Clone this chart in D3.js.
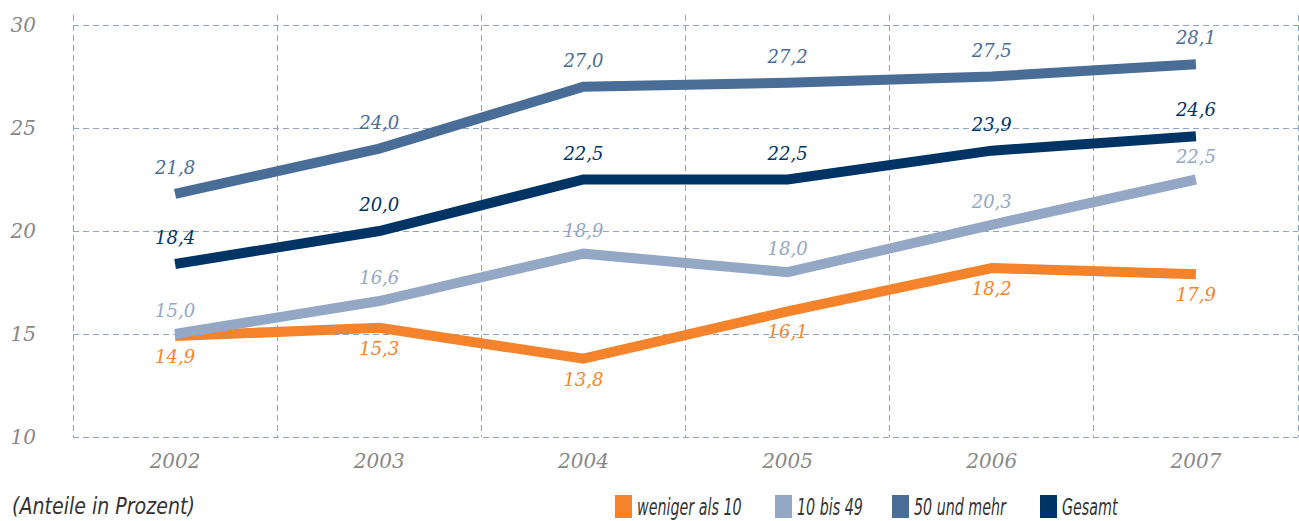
<!DOCTYPE html>
<html>
<head>
<meta charset="utf-8">
<script src="https://cdn.jsdelivr.net/npm/d3@7"></script>
<style>
  body { margin: 0; background: #fff; }
  svg { display: block; }
</style>
</head>
<body>
<div id="chart"></div>
<script>
// data
const years = ["2002", "2003", "2004", "2005", "2006", "2007"];
const yTicks = [10, 15, 20, 25, 30];
const wenigerAls10 = [14.9, 15.3, 13.8, 16.1, 18.2, 17.9];
const bis49 = [15.0, 16.6, 18.9, 18.0, 20.3, 22.5];
const undMehr50 = [21.8, 24.0, 27.0, 27.2, 27.5, 28.1];
const gesamt = [18.4, 20.0, 22.5, 22.5, 23.9, 24.6];
const seriesNames = ["weniger als 10", "10 bis 49", "50 und mehr", "Gesamt"];

const W = 1299, H = 521;
const serif = "'DejaVu Serif', serif";
const sans = "'DejaVu Sans Condensed', 'DejaVu Sans', sans-serif";

const svg = d3.select("#chart").append("svg")
  .attr("width", W).attr("height", H);

const x = d3.scaleBand().domain(years).range([73, 1298]).padding(0);
const y = d3.scaleLinear().domain([10, 30]).range([437, 25]);
const cx = d => x(d) + x.bandwidth() / 2;

const gridColor = "#8fa3c7";

// horizontal grid
svg.append("g").selectAll("line")
  .data(yTicks).enter().append("line")
  .attr("x1", 73).attr("x2", 1298)
  .attr("y1", d => y(d)).attr("y2", d => y(d))
  .attr("stroke", gridColor).attr("stroke-width", 1)
  .attr("shape-rendering", "crispEdges")
  .attr("stroke-dasharray", "6,4");

// vertical grid (band edges)
const edges = years.map(d => x(d)).concat([x(years[years.length - 1]) + x.bandwidth()]);
svg.append("g").selectAll("line")
  .data(edges).enter().append("line")
  .attr("x1", d => d).attr("x2", d => d)
  .attr("y1", 15).attr("y2", y(10))
  .attr("stroke", gridColor).attr("stroke-width", 1)
  .attr("shape-rendering", "crispEdges")
  .attr("stroke-dasharray", "6,4");

// y labels
svg.append("g").selectAll("text")
  .data(yTicks).enter().append("text")
  .attr("x", 36).attr("y", d => y(d) + 7)
  .attr("text-anchor", "end")
  .style("font-family", serif).style("font-style", "italic")
  .style("font-size", "20px").attr("fill", "#888")
  .text(d => d);

// x labels
svg.append("g").selectAll("text")
  .data(years).enter().append("text")
  .attr("x", d => cx(d)).attr("y", 468)
  .attr("text-anchor", "middle")
  .style("font-family", serif).style("font-style", "italic")
  .style("font-size", "20px").attr("fill", "#888")
  .text(d => d);

const series = [
  { name: seriesNames[0], values: wenigerAls10, color: "#f4832b", dy: 27 },
  { name: seriesNames[1], values: bis49, color: "#94a8c6", dy: -17 },
  { name: seriesNames[2], values: undMehr50, color: "#4a6d97", dy: -20 },
  { name: seriesNames[3], values: gesamt, color: "#003465", dy: -20 }
];

const line = d3.line()
  .x((d, i) => cx(years[i]))
  .y(d => y(d));

const fmt = v => d3.format(".1f")(v).replace(".", ",");

// lines
series.forEach(s => {
  svg.append("path")
    .datum(s.values)
    .attr("d", line)
    .attr("fill", "none")
    .attr("stroke", s.color)
    .attr("stroke-width", 10)
    .attr("stroke-linejoin", "miter");
});

// value labels
series.forEach(s => {
  svg.append("g").selectAll("text")
    .data(s.values).enter().append("text")
    .attr("x", (d, i) => cx(years[i]))
    .attr("y", d => y(d) + s.dy)
    .attr("text-anchor", "middle")
    .style("font-family", serif).style("font-style", "italic")
    .style("font-size", "18px").attr("fill", s.color)
    .text(d => fmt(d));
});

// unit note (font squeezed horizontally, no narrow font available)
svg.append("text")
  .attr("transform", "translate(12,514) scale(0.92,1)")
  .style("font-family", sans).style("font-style", "italic")
  .style("font-size", "23px").attr("fill", "#333")
  .text("(Anteile in Prozent)");

// legend
const legendX = [615, 775, 892, 1040];
const legend = svg.append("g").selectAll("g")
  .data(series).enter().append("g")
  .attr("transform", (d, i) => `translate(${legendX[i]},495)`);

legend.append("rect")
  .attr("width", 17).attr("height", 23)
  .attr("fill", d => d.color);

legend.append("text")
  .attr("transform", "translate(22,20) scale(0.69,1)")
  .style("font-family", sans).style("font-style", "italic")
  .style("font-size", "23px").attr("fill", "#333")
  .text(d => d.name);
</script>
</body>
</html>
